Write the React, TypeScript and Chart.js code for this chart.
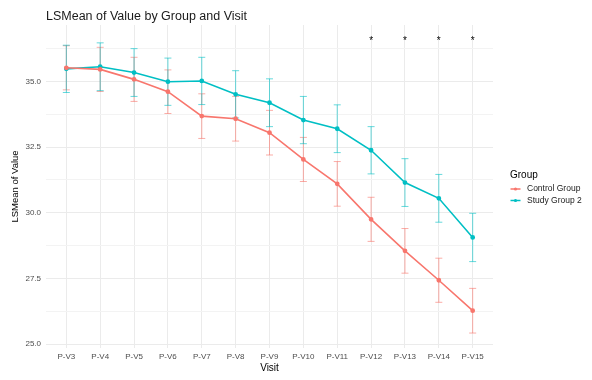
import React, { useEffect, useRef } from "react";
import { Chart, registerables } from "chart.js";

Chart.register(...registerables);

const visits = ["P-V3", "P-V4", "P-V5", "P-V6", "P-V7", "P-V8", "P-V9", "P-V10", "P-V11", "P-V12", "P-V13", "P-V14", "P-V15"];
const controlMean = [35.52, 35.46, 35.08, 34.61, 33.68, 33.58, 33.05, 32.03, 31.1, 29.75, 28.55, 27.43, 26.27];
const controlSE = [0.84, 0.84, 0.84, 0.83, 0.85, 0.85, 0.85, 0.84, 0.85, 0.84, 0.85, 0.84, 0.85];
const studyMean = [35.48, 35.56, 35.34, 34.99, 35.02, 34.51, 34.19, 33.53, 33.2, 32.38, 31.15, 30.55, 29.06];
const studySE = [0.9, 0.91, 0.91, 0.9, 0.9, 0.9, 0.91, 0.9, 0.91, 0.9, 0.91, 0.91, 0.92];
const significance = ["", "", "", "", "", "", "", "", "", "*", "*", "*", "*"];
const starLevel = 36.44;
const yTickValues = [25, 26.25, 27.5, 28.75, 30, 31.25, 32.5, 33.75, 35, 36.25];
const groupNames = ["Control Group", "Study Group 2"];
const legendTitle = "Group";
const chartTitle = "LSMean of Value by Group and Visit";

const RED = "#F8766D";
const CYAN = "#00BFC4";
const RED_A = "rgba(248,118,109,0.6)";
const CYAN_A = "rgba(0,191,196,0.6)";
const FONT = "'Liberation Sans', Arial, sans-serif";

const overlayPlugin = {
  id: "overlay",
  beforeDatasetsDraw(chart: any) {
    const { ctx } = chart;
    const xs = chart.scales.x;
    const ys = chart.scales.y;
    chart.data.datasets.forEach((ds: any) => {
      ctx.save();
      ctx.strokeStyle = ds.errColor;
      ctx.lineWidth = 1;
      ds.data.forEach((p: any, i: number) => {
        const e = ds.errors[i];
        const x = xs.getPixelForValue(p.x);
        const yt = ys.getPixelForValue(p.y + e);
        const yb = ys.getPixelForValue(p.y - e);
        ctx.beginPath();
        ctx.moveTo(x, yt);
        ctx.lineTo(x, yb);
        ctx.moveTo(x - 3.5, yt);
        ctx.lineTo(x + 3.5, yt);
        ctx.moveTo(x - 3.5, yb);
        ctx.lineTo(x + 3.5, yb);
        ctx.stroke();
      });
      ctx.restore();
    });
  },
  afterDraw(chart: any) {
    const { ctx, chartArea } = chart;
    const xs = chart.scales.x;
    const ys = chart.scales.y;
    ctx.save();
    // title
    ctx.fillStyle = "#1a1a1a";
    ctx.font = `12.5px ${FONT}`;
    ctx.textAlign = "left";
    ctx.textBaseline = "alphabetic";
    ctx.fillText(chartTitle, chartArea.left, 19.5);
    // stars
    ctx.fillStyle = "#000";
    ctx.font = `10px ${FONT}`;
    ctx.textAlign = "center";
    significance.forEach((s, i) => {
      if (s) ctx.fillText(s, xs.getPixelForValue(i), ys.getPixelForValue(starLevel));
    });
    // legend
    ctx.textAlign = "left";
    ctx.textBaseline = "middle";
    ctx.fillStyle = "#000";
    ctx.font = `10px ${FONT}`;
    ctx.fillText(legendTitle, 510, 175);
    ctx.font = `8.5px ${FONT}`;
    chart.data.datasets.forEach((ds: any, i: number) => {
      const y = 189 + i * 11.5;
      ctx.strokeStyle = ds.borderColor;
      ctx.lineWidth = 1.5;
      ctx.beginPath();
      ctx.moveTo(510.5, y);
      ctx.lineTo(520.5, y);
      ctx.stroke();
      ctx.fillStyle = ds.borderColor;
      ctx.beginPath();
      ctx.arc(515.5, y, 1.6, 0, Math.PI * 2);
      ctx.fill();
      ctx.fillStyle = "#1a1a1a";
      ctx.fillText(ds.label, 527, y);
    });
    ctx.restore();
  },
};

export default function App() {
  const ref = useRef<HTMLCanvasElement | null>(null);
  useEffect(() => {
    if (!ref.current) return;
    const chart = new Chart(ref.current, {
      type: "line",
      data: {
        datasets: [
          {
            label: groupNames[0],
            data: controlMean.map((v, i) => ({ x: i, y: v })),
            errors: controlSE,
            errColor: RED_A,
            borderColor: RED,
            backgroundColor: RED,
            borderWidth: 1.6,
            pointRadius: 1.6,
            pointHoverRadius: 1.6,
            tension: 0,
          } as any,
          {
            label: groupNames[1],
            data: studyMean.map((v, i) => ({ x: i, y: v })),
            errors: studySE,
            errColor: CYAN_A,
            borderColor: CYAN,
            backgroundColor: CYAN,
            borderWidth: 1.6,
            pointRadius: 1.6,
            pointHoverRadius: 1.6,
            tension: 0,
          } as any,
        ],
      },
      options: {
        animation: false,
        responsive: true,
        maintainAspectRatio: false,
        layout: { padding: { top: 25, right: 99, left: 0, bottom: 0 } },
        plugins: { legend: { display: false }, tooltip: { enabled: false }, title: { display: false } },
        scales: {
          x: {
            type: "linear",
            min: -0.6,
            max: 12.6,
            afterFit: (s: any) => {
              s.height = 32;
            },
            afterBuildTicks: (axis: any) => {
              axis.ticks = visits.map((_, i) => ({ value: i }));
            },
            ticks: {
              autoSkip: false,
              maxRotation: 0,
              padding: 4,
              color: "#4d4d4d",
              font: { size: 8, family: FONT },
              callback: (v: any) => visits[v as number] ?? "",
            },
            grid: { color: "#EBEBEB", lineWidth: 1, drawTicks: false },
            border: { display: false },
            title: {
              display: true,
              text: "Visit",
              color: "#000",
              font: { size: 10, family: FONT },
              padding: { top: 0, bottom: 6 },
            },
          },
          y: {
            type: "linear",
            min: 24.85,
            max: 37.15,
            afterFit: (s: any) => {
              s.width = 46;
            },
            afterBuildTicks: (axis: any) => {
              axis.ticks = yTickValues.map((v) => ({ value: v }));
            },
            ticks: {
              padding: 5,
              color: "#4d4d4d",
              font: { size: 8, family: FONT },
              callback: (v: any) => (Math.abs((v as number) / 2.5 - Math.round((v as number) / 2.5)) < 1e-6 ? (v as number).toFixed(1) : ""),
            },
            grid: {
              drawTicks: false,
              color: (c: any) => (Math.abs(c.tick.value / 2.5 - Math.round(c.tick.value / 2.5)) < 1e-6 ? "#EBEBEB" : "#F3F3F3"),
              lineWidth: 1,
            },
            border: { display: false },
            title: {
              display: true,
              text: "LSMean of Value",
              color: "#000",
              font: { size: 9.5, family: FONT },
              padding: { top: 10, bottom: 0 },
            },
          },
        },
      } as any,
      plugins: [overlayPlugin],
    });
    return () => chart.destroy();
  }, []);
  return (
    <div style={{ position: "fixed", left: 0, top: 0, width: 592, height: 380, background: "#fff" }}>
      <canvas ref={ref} />
    </div>
  );
}
